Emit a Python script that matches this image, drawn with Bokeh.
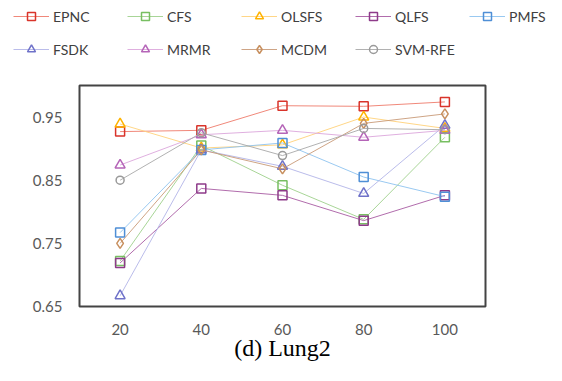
from bokeh.plotting import figure
from bokeh.models import Range1d, FixedTicker, Legend, LegendItem, Title, CustomJSTickFormatter
from bokeh.embed import file_html
from bokeh.resources import INLINE

# ---- data ----
feature_counts = [20, 40, 60, 80, 100]
series_names = ["EPNC", "CFS", "OLSFS", "QLFS", "PMFS", "FSDK", "MRMR", "MCDM", "SVM-RFE"]
epnc = [0.927, 0.929, 0.968, 0.967, 0.974]
cfs = [0.722, 0.905, 0.842, 0.788, 0.918]
olsfs = [0.939, 0.901, 0.906, 0.950, 0.932]
qlfs = [0.719, 0.837, 0.826, 0.786, 0.826]
pmfs = [0.767, 0.898, 0.909, 0.855, 0.824]
fsdk = [0.667, 0.898, 0.872, 0.829, 0.937]
mrmr = [0.874, 0.922, 0.929, 0.918, 0.929]
mcdm = [0.750, 0.898, 0.868, 0.940, 0.955]
svm_rfe = [0.850, 0.925, 0.889, 0.932, 0.930]
y_ticks = [0.65, 0.75, 0.85, 0.95]
caption = "(d) Lung2"

values = [epnc, cfs, olsfs, qlfs, pmfs, fsdk, mrmr, mcdm, svm_rfe]
line_colors = ["#ee7b6c", "#9fd08c", "#ffd27a", "#a85ca3", "#8ec3f0", "#b3b5e8", "#dca6dc", "#c99a78", "#a8a8a8"]
marker_colors = ["#d9342b", "#78bf62", "#ffb300", "#8e3b8a", "#4f8fd6", "#6f72c9", "#b565b8", "#c8905f", "#9a9a9a"]
markers = ["square", "square", "triangle", "square", "square", "triangle", "triangle", "diamond", "circle"]
sizes = [9, 9, 10, 9, 9, 10, 10, 10, 8]

W = 562
LEG_H = 70

# ---- legend strip (same series, drawn out of view so only legend shows) ----
lf = figure(width=W, height=LEG_H, output_backend="svg", toolbar_location=None,
            x_range=Range1d(10, 110), y_range=Range1d(0, 0.1),
            x_axis_location=None, y_axis_location=None,
            min_border_left=0, min_border_right=0, min_border_top=0, min_border_bottom=0)
lf.grid.visible = False
lf.outline_line_color = None
lf.background_fill_color = "white"
lf.border_fill_color = "white"

items = []
for name, vals, lc, mc, mk, sz in zip(series_names, values, line_colors, marker_colors, markers, sizes):
    ln = lf.line(feature_counts, vals, line_color=lc, line_width=1.0, line_alpha=0.9)
    sc = lf.scatter(feature_counts, vals, marker=mk, size=sz - 1, line_color=mc, line_width=1.5,
                    fill_color=None)
    items.append(LegendItem(label=name, renderers=[ln, sc]))

def make_legend(its, loc):
    return Legend(items=its, orientation="horizontal", location=loc,
                  glyph_width=36, glyph_height=20, label_standoff=4, label_width=70,
                  spacing=4, padding=0, margin=0,
                  border_line_alpha=0, background_fill_alpha=0,
                  label_text_font="Lato", label_text_font_size="14px",
                  label_text_color="#404040")

lf.add_layout(make_legend(items[:5], (13, 44)), "center")
lf.add_layout(make_legend(items[5:], (13, 11)), "center")

# ---- main chart ----
p = figure(width=W, height=381 - LEG_H - 2, output_backend="svg", toolbar_location=None,
           x_range=Range1d(10, 110), y_range=Range1d(0.65, 1.0),
           min_border_left=79, min_border_right=77, min_border_top=15, min_border_bottom=73)
p.background_fill_color = "white"
p.border_fill_color = "white"
p.outline_line_color = "#444444"
p.outline_line_width = 2
p.xgrid.visible = False
p.ygrid.visible = False

for ax in (p.xaxis[0], p.yaxis[0]):
    ax.axis_line_color = None
    ax.major_tick_line_color = None
    ax.minor_tick_line_color = None
    ax.major_tick_out = 0
    ax.major_tick_in = 0
    ax.major_label_text_font = "Lato"
    ax.major_label_text_font_size = "15px"
    ax.major_label_text_color = "#595959"
p.xaxis.ticker = FixedTicker(ticks=feature_counts)
p.yaxis.ticker = FixedTicker(ticks=y_ticks)
p.yaxis.formatter = CustomJSTickFormatter(code="return tick.toFixed(2)")
p.xaxis.major_label_standoff = 17
p.yaxis.major_label_standoff = 17

for vals, lc, mc, mk, sz in zip(values, line_colors, marker_colors, markers, sizes):
    p.line(feature_counts, vals, line_color=lc, line_width=1.0, line_alpha=0.9)
    p.scatter(feature_counts, vals, marker=mk, size=sz, line_color=mc, line_width=1.5,
              fill_color=None)

t = Title(text=caption, align="center", text_font="Liberation Serif",
          text_font_size="24px", text_font_style="normal", text_color="#000000", standoff=-10)
p.add_layout(t, "below")

open("out.html", "w").write(file_html([lf, p], INLINE))
